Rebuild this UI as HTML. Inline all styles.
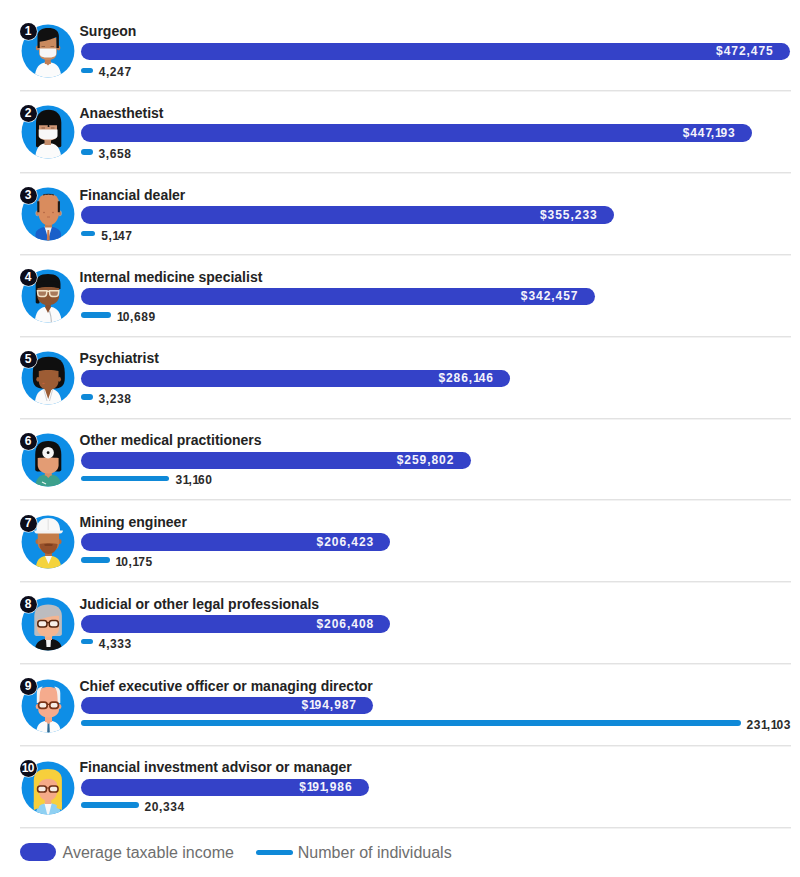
<!DOCTYPE html>
<html><head><meta charset="utf-8"><style>
html,body{margin:0;padding:0;background:#fff;}
body{width:800px;height:877px;position:relative;overflow:hidden;font-family:"Liberation Sans",sans-serif;}
.av{position:absolute;left:17.9px;width:60px;height:60px;}
.av svg{display:block;width:60px;height:60px;overflow:visible}
.badge{position:absolute;left:19.6px;width:17px;height:17px;border-radius:50%;background:#0c0c1a;color:#fff;font-weight:bold;font-size:12px;line-height:17.6px;text-align:center;box-shadow:0 0 0 0.6px #fff;letter-spacing:-0.6px;text-indent:-0.5px}
.title{position:absolute;left:79.5px;font-weight:bold;font-size:14px;line-height:16px;color:#232323;white-space:nowrap}
.ibar{position:absolute;left:80.5px;height:17.5px;border-radius:9px;background:#3442c8;}
.ibar>span{position:absolute;right:16.3px;top:0.5px;line-height:17.5px;font-size:12px;font-weight:bold;color:#f4f4fb;white-space:nowrap;letter-spacing:0.95px}
.o1{letter-spacing:-1.2px}
.k7{letter-spacing:-1.5px}
.nbar{position:absolute;left:80.5px;height:5.8px;border-radius:3px;background:#0f89d8;}
.nlab{position:absolute;font-weight:bold;font-size:12px;line-height:12px;color:#2b2b2b;white-space:nowrap;letter-spacing:0.6px}
.o2{letter-spacing:-1.0px}
.sep{position:absolute;left:20px;width:771px;height:1px;background:#e2e2e2;box-shadow:0 1px 0 #f2f2f2}
.leg1{position:absolute;left:20.3px;top:843.4px;width:36px;height:17.2px;border-radius:9px;background:#3442c8}
.leg1t{position:absolute;left:62.5px;top:844px;font-size:16px;line-height:18px;color:#6e6e6e}
.leg2{position:absolute;left:256px;top:849.7px;width:37px;height:5.5px;border-radius:3px;background:#0f89d8}
.leg2t{position:absolute;left:297.8px;top:844px;font-size:16px;line-height:18px;color:#6e6e6e}
</style></head><body>
<div class="av" style="top:20.50px"><svg viewBox="0 0 60 60"><clipPath id="c1"><circle cx="30" cy="30" r="26.5"/></clipPath><circle cx="30" cy="30" r="26.4" fill="#0e8ee6"/><g clip-path="url(#c1)">
<path d="M16.5 60 C16.5 47 21 42.5 27 41.5 L33 41.5 C39 42.5 43.5 47 43.5 60 Z" fill="#fbfbfb"/>
<rect x="26.8" y="34" width="6" height="9" fill="#c07e55"/>
<path d="M26.8 41.5 L30 44.5 L33 41.5 Z" fill="#c07e55"/>
<ellipse cx="19.6" cy="27" rx="1.8" ry="2.4" fill="#c07e55"/>
<ellipse cx="40.6" cy="27" rx="1.8" ry="2.4" fill="#c07e55"/>
<path d="M21 17 L38.8 17 L38.8 31 C38.8 37 35 39 30 39 C25 39 21 37 21 31 Z" fill="#c98a5f"/>
<path d="M23.5 25.5 L27 25.5 M32.5 25.5 L36 25.5" stroke="#8a5a3c" stroke-width="0.9"/>
<path d="M19.5 27 L19.5 15 C19.5 9.5 24 6.9 30.2 6.9 C36.5 6.9 40.9 9.5 40.9 15 L40.9 27 L38.5 27 L38.3 16 C35 17.5 31 19.5 21.7 20.8 L21.7 27 Z" fill="#111"/>
<path d="M21.7 27.4 L38.2 27.4 L38.2 33 C38.2 35.5 35 36.6 29.9 36.6 C24.8 36.6 21.7 35.5 21.7 33 Z" fill="#f7f7f7"/>
</g></svg></div><div class="badge" style="top:22.95px">1</div><div class="title" style="top:23px">Surgeon</div><div class="ibar" style="top:42.50px;width:709.50px"><span>$472,475</span></div><div class="nbar" style="top:67.50px;width:12.13px"></div><div class="nlab" style="top:66px;left:98.63px">4,247</div><div class="sep" style="top:90px"></div><div class="av" style="top:102.43px"><svg viewBox="0 0 60 60"><clipPath id="c2"><circle cx="30" cy="30" r="26.5"/></clipPath><circle cx="30" cy="30" r="26.4" fill="#0e8ee6"/><g clip-path="url(#c2)">
<path d="M18 43.6 L18 21 C18 12 23.5 7.8 30.6 7.8 C37.8 7.8 43.3 12 43.3 21 L43.3 43.6 C43.3 45 42 45.5 40 45.5 L21 45.5 C19 45.5 18 45 18 43.6 Z" fill="#0d0d0d"/>
<path d="M17 60 C17 47 21 42.5 26 41.5 L34 41.5 C39 42.5 43.5 47 43.5 60 Z" fill="#fbfbfb"/>
<rect x="26.5" y="35" width="6.5" height="8" fill="#c48e6c"/>
<path d="M21 23.2 L39 23.2 L39 33 C39 37 35 38.5 30 38.5 C25 38.5 21 37 21 33 Z" fill="#cf9674"/>
<path d="M23.5 26 L27 26 M33 26 L36.5 26" stroke="#7a4e38" stroke-width="0.8"/>
<path d="M20.7 27.6 L39.5 27.6 L39.5 34 C39.5 36.5 35.5 37.6 30.1 37.6 C24.7 37.6 20.7 36.5 20.7 34 Z" fill="#f7f7f7"/>
<path d="M30.3 20 L31.5 25 L29.6 25 Z" fill="#0d0d0d"/>
</g></svg></div><div class="badge" style="top:104.88px">2</div><div class="title" style="top:105px">Anaesthetist</div><div class="ibar" style="top:124.30px;width:671.53px"><span>$44<span class="k7">7</span>,<span class="o1">1</span>93</span></div><div class="nbar" style="top:149.10px;width:12.00px"></div><div class="nlab" style="top:148px;left:98.50px">3,658</div><div class="sep" style="top:172px"></div><div class="av" style="top:184.36px"><svg viewBox="0 0 60 60"><clipPath id="c3"><circle cx="30" cy="30" r="26.5"/></clipPath><circle cx="30" cy="30" r="26.4" fill="#0e8ee6"/><g clip-path="url(#c3)">
<path d="M17.5 60 L17.5 50 C18 46 22 43.5 27 43 L34 43 C39 43.5 42.5 46 43 50 L43 60 Z" fill="#1a5fc9"/>
<path d="M26.5 42.6 L30.3 55 L34 42.6 Z" fill="#f4f4f4"/>
<path d="M29.4 46 L31.2 46 L31.7 56 L30.3 57.5 L28.9 56 Z" fill="#c9784d"/>
<rect x="27" y="37" width="7" height="6.5" fill="#c57f53"/>
<ellipse cx="19.4" cy="29.3" rx="1.7" ry="2.6" fill="#c88258" stroke="#a9bccc" stroke-width="0.5"/>
<ellipse cx="41.9" cy="29.3" rx="1.7" ry="2.6" fill="#c88258" stroke="#a9bccc" stroke-width="0.5"/>
<path d="M20.2 20 C20.2 13 24 10.1 30.6 10.1 C37 10.1 41.1 13 41.1 20 L41.1 28 C41.1 35 37 41.4 30.6 41.4 C24.5 41.4 20.2 35 20.2 28 Z" fill="#d98c5e"/>
<path d="M25 11 C28 10 33 10 36 11" stroke="#2a2220" stroke-width="1" fill="none"/>
<ellipse cx="26" cy="28.5" rx="1.1" ry="0.7" fill="#b86b48"/>
<ellipse cx="35" cy="28.5" rx="1.1" ry="0.7" fill="#b86b48"/>
<path d="M29 33 L32 33" stroke="#b86b48" stroke-width="1"/>
<path d="M19.2 17.2 L21.4 17.2 L21.4 28.2 L19.3 28.2 Z" fill="#1e1a18"/>
<path d="M39.8 17.2 L42 17.2 L41.9 28.2 L39.8 28.2 Z" fill="#1e1a18"/>
</g></svg></div><div class="badge" style="top:186.81px">3</div><div class="title" style="top:187px">Financial dealer</div><div class="ibar" style="top:206.10px;width:533.44px"><span>$355,233</span></div><div class="nbar" style="top:230.70px;width:14.70px"></div><div class="nlab" style="top:230px;left:101.20px">5,<span class="o2">1</span>47</div><div class="sep" style="top:254px"></div><div class="av" style="top:266.29px"><svg viewBox="0 0 60 60"><clipPath id="c4"><circle cx="30" cy="30" r="26.5"/></clipPath><circle cx="30" cy="30" r="26.4" fill="#0e8ee6"/><g clip-path="url(#c4)">
<path d="M16.5 60 C16.5 47 21 41.5 27 41 L33 41 C39 41.5 44 47 44 60 Z" fill="#fbfbfb"/>
<path d="M27 41 L30 47 L33 41 Z" fill="#8a5030"/>
<path d="M31.5 45 C33 50 34 54 33 58" stroke="#b9bcc0" stroke-width="1.1" fill="none"/>
<rect x="27.3" y="34" width="5.5" height="7.5" fill="#8a5030"/>
<path d="M17.7 36 L17.7 18 C17.7 11 22 8 30 8 C38 8 42.5 11 42.5 18 L42.5 23 L21.5 23 L21.5 37 C19.5 38 17.7 37.5 17.7 36 Z" fill="#101010"/>
<path d="M19.3 22 C24 20.5 36 20.5 41.2 22 L41.2 30 C41.2 35 36 39.3 30.2 39.3 C24.5 39.3 19.3 35 19.3 30 Z" fill="#8d5532"/>
<path d="M19.3 22.5 C23 20 36 19.8 41.4 22.5 L41.4 18 C38 14 23 14 19.3 18 Z" fill="#101010"/>
<g fill="#a87a5c" stroke="#f1e2c8" stroke-width="1.5">
<path d="M19.5 24.8 L29 24.8 L28.5 28.5 C28 30 27 30.6 25 30.6 L23 30.6 C21 30.6 20 29.5 19.8 28 Z"/>
<path d="M31.3 24.8 L40.8 24.8 L40.5 28 C40.3 29.5 39.3 30.6 37.3 30.6 L35.3 30.6 C33.3 30.6 32.3 30 31.8 28.5 Z"/>
</g>
<path d="M29 25.5 L31.3 25.5" stroke="#f1e2c8" stroke-width="1"/>
</g></svg></div><div class="badge" style="top:268.74px">4</div><div class="title" style="top:269px">Internal medicine specialist</div><div class="ibar" style="top:287.90px;width:514.26px"><span>$342,457</span></div><div class="nbar" style="top:312.30px;width:30.53px"></div><div class="nlab" style="top:311px;left:117.03px"><span class="o2">1</span>0,689</div><div class="sep" style="top:336px"></div><div class="av" style="top:348.22px"><svg viewBox="0 0 60 60"><clipPath id="c5"><circle cx="30" cy="30" r="26.5"/></clipPath><circle cx="30" cy="30" r="26.4" fill="#0e8ee6"/><g clip-path="url(#c5)">
<path d="M16.5 60 C16.5 47 21 41.5 27 41 L33.5 41 C39.5 41.5 44 47 44 60 Z" fill="#fbfbfb"/>
<path d="M26.8 41 L30.2 51 L33.6 41 Z" fill="#9b5b33"/>
<path d="M26 42 L29 53 M34.5 42 L31.5 53" stroke="#c8cacd" stroke-width="0.9" fill="none"/>
<rect x="26.8" y="36" width="6.8" height="6" fill="#9b5b33"/>
<path d="M14.8 25 C14.8 13 21 8.8 30.8 8.8 C40.5 8.8 46.8 13 46.8 25 L46.8 30 C46.8 38 43 40.5 36 40.5 L25.5 40.5 C18.5 40.5 14.8 38 14.8 30 Z" fill="#0f0f0f"/>
<path d="M20.8 23 C25 21.5 36 21.5 40.5 23 L40.5 33 C40.5 38.5 36 41.8 30.6 41.8 C25 41.8 20.8 38.5 20.8 33 Z" fill="#9d5c34"/>
<ellipse cx="20" cy="31.3" rx="1.7" ry="2.4" fill="#9d5c34"/>
<ellipse cx="41.3" cy="31.3" rx="1.7" ry="2.4" fill="#9d5c34"/>
<ellipse cx="25.5" cy="35.5" rx="1.3" ry="0.8" fill="#c0623c"/>
</g></svg></div><div class="badge" style="top:350.67px">5</div><div class="title" style="top:350px">Psychiatrist</div><div class="ibar" style="top:369.70px;width:429.70px"><span>$286,<span class="o1">1</span>46</span></div><div class="nbar" style="top:393.90px;width:12.00px"></div><div class="nlab" style="top:393px;left:98.50px">3,238</div><div class="sep" style="top:418px"></div><div class="av" style="top:430.15px"><svg viewBox="0 0 60 60"><clipPath id="c6"><circle cx="30" cy="30" r="26.5"/></clipPath><circle cx="30" cy="30" r="26.4" fill="#0e8ee6"/><g clip-path="url(#c6)">
<path d="M17 60 C17 49 21 45 27 44.5 L33.5 44.5 C39.5 45 43.5 49 43.5 60 Z" fill="#3ca08c"/>
<path d="M24 52 L28 54" stroke="#e8f4f0" stroke-width="1.2"/>
<rect x="26.8" y="38" width="7" height="7.5" fill="#d68f67"/>
<path d="M27 44.5 L30.3 48 L33.6 44.5 Z" fill="#d68f67"/>
<path d="M17.2 39.5 L17.2 25 C17.2 15 22 11 30.2 11 C38.5 11 43.3 15 43.3 25 L43.3 39.5 C43.3 41 42 41.5 40 41.5 L20.5 41.5 C18.5 41.5 17.2 41 17.2 39.5 Z" fill="#0e0e0e"/>
<path d="M19.7 28 C25 27.3 36 27.3 40.6 28 L40.6 35 C40.6 40 36 43.5 30.2 43.5 C24.5 43.5 19.7 40 19.7 35 Z" fill="#e39c74"/>
<circle cx="30.1" cy="22.7" r="5.8" fill="#f6f6f6"/>
<circle cx="30.1" cy="22.7" r="1.4" fill="#111"/>
</g></svg></div><div class="badge" style="top:432.60px">6</div><div class="title" style="top:432px">Other medical practitioners</div><div class="ibar" style="top:451.50px;width:390.14px"><span>$259,802</span></div><div class="nbar" style="top:475.50px;width:88.99px"></div><div class="nlab" style="top:474px;left:175.49px">3<span class="o2">1</span>,<span class="o2">1</span>60</div><div class="sep" style="top:499px"></div><div class="av" style="top:512.08px"><svg viewBox="0 0 60 60"><clipPath id="c7"><circle cx="30" cy="30" r="26.5"/></clipPath><circle cx="30" cy="30" r="26.4" fill="#0e8ee6"/><g clip-path="url(#c7)">
<path d="M17.5 60 C17.5 49 21 45 27 44 L34 44 C40 45 43.5 49 43.5 60 Z" fill="#f4d33c"/>
<path d="M27 44 L30.5 52 L34 44 Z" fill="#f7f7f7"/>
<rect x="27" y="37" width="7" height="7" fill="#b26c40"/>
<ellipse cx="19.3" cy="29.5" rx="1.8" ry="2.5" fill="#b26c40"/>
<ellipse cx="41.8" cy="29.5" rx="1.8" ry="2.5" fill="#b26c40"/>
<path d="M19.7 21 L41.1 21 L41.1 31 C41.1 37 36 39.7 30.4 39.7 C25 39.7 19.7 37 19.7 31 Z" fill="#c47c48"/>
<path d="M21.5 32 C24 31 37 31 39.5 32 C39.5 38 35 42 30.4 42 C26 42 21.5 38 21.5 32 Z" fill="#98502a"/>
<path d="M26 32.5 C28 31.5 33 31.5 35 32.5 L34 34 L27 34 Z" fill="#7e3e1e"/>
<path d="M18.3 19 C18.3 10 23 5.9 30.2 5.9 C37.5 5.9 42.1 10 42.1 19 Z" fill="#f8f8f8"/>
<path d="M30.2 6.5 L30.2 18" stroke="#e2e2e2" stroke-width="1.2"/>
<path d="M16.3 18.6 L44.9 18.6 C44.9 20.5 44 21.4 42 21.4 L18.5 21.4 C17 21.4 16.3 20.5 16.3 18.6 Z" fill="#f3f3f3"/>
</g></svg></div><div class="badge" style="top:514.53px">7</div><div class="title" style="top:514px">Mining engineer</div><div class="ibar" style="top:533.30px;width:309.98px"><span>$206,423</span></div><div class="nbar" style="top:557.10px;width:29.06px"></div><div class="nlab" style="top:556px;left:115.56px"><span class="o2">1</span>0,<span class="o2">1</span>75</div><div class="sep" style="top:581px"></div><div class="av" style="top:594.01px"><svg viewBox="0 0 60 60"><clipPath id="c8"><circle cx="30" cy="30" r="26.5"/></clipPath><circle cx="30" cy="30" r="26.4" fill="#0e8ee6"/><g clip-path="url(#c8)">
<path d="M16.5 60 C16.5 50 20 46 27 45 L34 45 C41 46 44.5 50 44.5 60 Z" fill="#111"/>
<path d="M28 45 L28.5 53 L32.5 53 L33 45 Z" fill="#f4f4f4"/>
<rect x="27" y="38" width="7" height="8" fill="#f0b08c"/>
<path d="M16.3 40 L16.3 22 C16.3 14 22 10.4 30.1 10.4 C38.3 10.4 43.9 14 43.9 22 L43.9 40 C43.9 41.5 42.5 42 40.5 42 L19.5 42 C17.5 42 16.3 41.5 16.3 40 Z" fill="#bcbcbf"/>
<path d="M19.1 25.9 C26 24.5 35 21 41.1 21.9 L41.1 34 C41.1 39.5 36.5 43 30.1 43 C24 43 19.1 39.5 19.1 34 Z" fill="#f3b591"/>
<g fill="#f7efe8" stroke="#55260f" stroke-width="1.5">
<rect x="19.8" y="26.6" width="9.2" height="6.4" rx="2.8"/>
<rect x="31.2" y="26.6" width="9.2" height="6.4" rx="2.8"/>
</g>
<path d="M29 28.6 L31.2 28.6" stroke="#55260f" stroke-width="1.2"/>
</g></svg></div><div class="badge" style="top:596.46px">8</div><div class="title" style="top:596px">Judicial or other legal professionals</div><div class="ibar" style="top:615.10px;width:309.96px"><span>$206,408</span></div><div class="nbar" style="top:638.70px;width:12.37px"></div><div class="nlab" style="top:638px;left:98.87px">4,333</div><div class="sep" style="top:663px"></div><div class="av" style="top:675.94px"><svg viewBox="0 0 60 60"><clipPath id="c9"><circle cx="30" cy="30" r="26.5"/></clipPath><circle cx="30" cy="30" r="26.4" fill="#0e8ee6"/><g clip-path="url(#c9)">
<path d="M18 60 C18 50 21 46 27 45 L34 45 C40 46 43 50 43 60 Z" fill="#fbfbfb"/>
<path d="M29.6 47 L31.4 47 L31.8 56 L30.5 58 L29.2 56 Z" fill="#2e6a94"/>
<rect x="27" y="39" width="7" height="7" fill="#f0a688"/>
<path d="M27 45 L30.5 48 L34 45 Z" fill="#f0a688"/>
<ellipse cx="19.5" cy="30.5" rx="1.8" ry="2.6" fill="#f0a688"/>
<ellipse cx="41.6" cy="30.5" rx="1.8" ry="2.6" fill="#f0a688"/>
<path d="M20.2 18.5 C20.2 13 24 11 30.6 11 C37 11 41.1 13 41.1 18.5 L41.1 33 C41.1 38.5 36.5 41.5 30.6 41.5 C24.7 41.5 20.2 38.5 20.2 33 Z" fill="#f5ab8d"/>
<path d="M18.8 27 L18.8 17 C18.8 12 22 10.8 25 10.8 C22.5 12.5 21.4 16 21.4 27 Z" fill="#f2f2f2"/>
<path d="M42.3 27 L42.3 17 C42.3 12 39 10.8 36 10.8 C38.5 12.5 39.7 16 39.7 27 Z" fill="#f2f2f2"/>
<g fill="#f7ede6" stroke="#7a3418" stroke-width="1.7">
<rect x="20.6" y="26.1" width="8.6" height="6.2" rx="2.8"/>
<rect x="31.8" y="26.1" width="8.6" height="6.2" rx="2.8"/>
</g>
<path d="M29.2 28.4 L31.8 28.4" stroke="#7a3418" stroke-width="1.3"/>
</g></svg></div><div class="badge" style="top:678.39px">9</div><div class="title" style="top:678px">Chief executive officer or managing director</div><div class="ibar" style="top:696.90px;width:292.81px"><span>$<span class="o1">1</span>94,987</span></div><div class="nbar" style="top:720.30px;width:660.00px"></div><div class="nlab" style="top:719px;left:746.50px">23<span class="o2">1</span>,<span class="o2">1</span>03</div><div class="sep" style="top:745px"></div><div class="av" style="top:757.87px"><svg viewBox="0 0 60 60"><clipPath id="c10"><circle cx="30" cy="30" r="26.5"/></clipPath><circle cx="30" cy="30" r="26.4" fill="#0e8ee6"/><g clip-path="url(#c10)">
<path d="M15.8 49 L15.8 22 C15.8 14 22 11.1 29.8 11.1 C37.8 11.1 43.9 14 43.9 22 L43.9 49 Z" fill="#f7cf3c"/>
<path d="M17.5 60 C17.5 50 21 46.5 27 45.5 L34 45.5 C40 46.5 43 50 43 60 Z" fill="#8fd0f2"/>
<path d="M15.8 44 L20 44 L21 50 L15.8 52 Z M43.9 44 L39.5 44 L38.5 50 L43.9 52 Z" fill="#f7cf3c"/>
<path d="M26.5 45.5 L30.1 60 L33.7 45.5 Z" fill="#f7f7f7"/>
<rect x="26.8" y="38" width="6.5" height="8" fill="#f2a886"/>
<path d="M21 22 C24 20 36 20 39 22 L39 34 C39 39 35 42.5 30 42.5 C25 42.5 21 39 21 34 Z" fill="#f5aa88"/>
<path d="M20.5 27 C23 19 36 18.5 39.5 26 L39.5 16 C36 13 24 13 20.5 16 Z" fill="#f7cf3c"/>
<g fill="#f6ece4" stroke="#6f3016" stroke-width="1.6">
<rect x="19.6" y="28" width="8.8" height="6" rx="2.6"/>
<rect x="31.2" y="28" width="8.8" height="6" rx="2.6"/>
</g>
<path d="M28.4 30 L31.2 30" stroke="#6f3016" stroke-width="1.2"/>
</g></svg></div><div class="badge" style="top:760.32px">10</div><div class="title" style="top:759px">Financial investment advisor or manager</div><div class="ibar" style="top:778.70px;width:288.30px"><span>$<span class="o1">1</span>9<span class="o1">1</span>,986</span></div><div class="nbar" style="top:801.90px;width:58.07px"></div><div class="nlab" style="top:801px;left:144.57px">20,334</div><div class="sep" style="top:827px"></div>
<div class="leg1"></div><div class="leg1t">Average taxable income</div>
<div class="leg2"></div><div class="leg2t">Number of individuals</div>
</body></html>
